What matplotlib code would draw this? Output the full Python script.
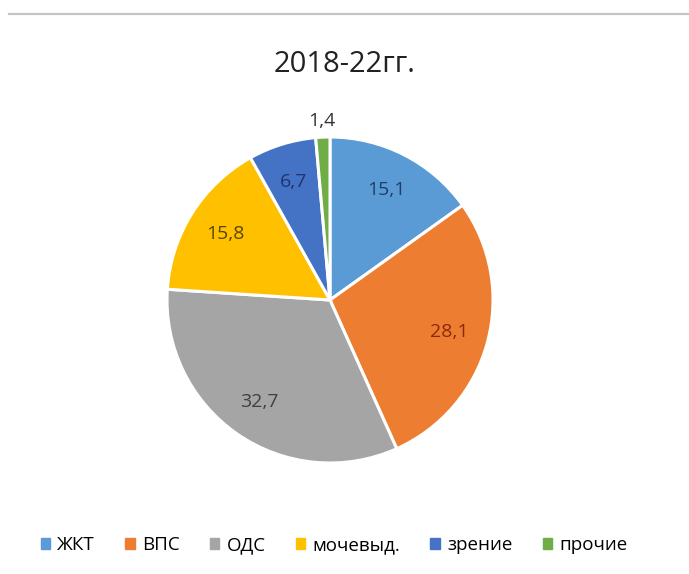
import numpy as np
import matplotlib.pyplot as plt
from matplotlib.lines import Line2D

# доли по группам, %
groups = ['ЖКТ', 'ВПС', 'ОДС', 'мочевыд.', 'зрение', 'прочие']
shares = [15.1, 28.1, 32.7, 15.8, 6.7, 1.4]
colors = ['#5B9BD5', '#ED7D31', '#A5A5A5', '#FFC000', '#4472C4', '#70AD47']
txt_colors = ['#1F3E6B', '#8B2A0B', '#404040', '#5A4500', '#1F3470', '#404040']

fig = plt.figure(figsize=(6.89, 5.74), dpi=100)
fig.patch.set_facecolor('white')

# серая линия сверху
fig.add_artist(Line2D([0.013, 1.0], [1 - 14/574, 1 - 14/574], color='#c4c4c4', lw=1.6))

ax = fig.add_axes([(330 - 163) / 689, 1 - (300 + 163) / 574, 326 / 689, 326 / 574])
wedges, _ = ax.pie(shares, colors=colors, startangle=90, counterclock=False,
                   wedgeprops=dict(edgecolor='white', linewidth=2.2))
ax.set_xlim(-1, 1)
ax.set_ylim(-1, 1)
ax.set_aspect('equal')

# подписи значений
for w, v, c in zip(wedges, shares, txt_colors):
    ang = np.deg2rad((w.theta1 + w.theta2) / 2)
    r = 0.76 if v > 5 else 1.1
    if v <= 5:
        c = '#333333'
    ax.text(r * np.cos(ang), r * np.sin(ang), f'{v:.1f}'.replace('.', ','),
            ha='center', va='center', fontsize=14, color=c, family='Open Sans')

fig.text(0.5, 1 - 64/574, '2018-22гг.', ha='center', va='center',
         fontsize=21, color='#222222', family='Open Sans')

handles = [plt.Rectangle((0, 0), 1, 1, color=c) for c in colors]
fig.legend(handles, groups, loc='center', bbox_to_anchor=(0.485, 1 - 545/574),
           ncol=6, frameon=False, handlelength=0.5, handleheight=0.5,
           columnspacing=1.6, handletextpad=0.4, prop={'family': 'Open Sans', 'size': 13.5})

fig.savefig('out.png', dpi=100)
